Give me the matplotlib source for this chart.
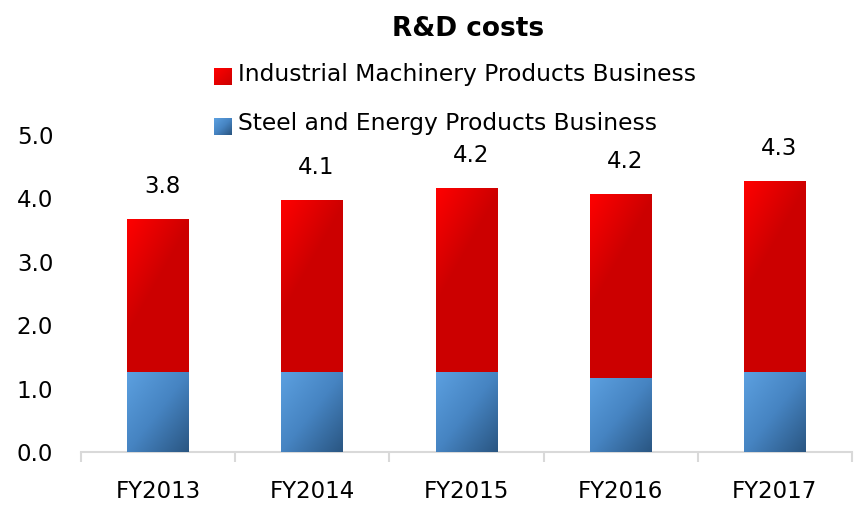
import numpy as np
import matplotlib
matplotlib.use('Agg')
import matplotlib.pyplot as plt
from matplotlib.patches import Rectangle
from matplotlib.legend_handler import HandlerBase
from matplotlib.image import BboxImage
from matplotlib.transforms import Bbox, TransformedBbox

# ---- data ----
categories = ['FY2013', 'FY2014', 'FY2015', 'FY2016', 'FY2017']
steel = [1.26, 1.26, 1.26, 1.17, 1.26]
industrial = [2.41, 2.71, 2.90, 2.90, 3.01]
total_labels = ['3.8', '4.1', '4.2', '4.2', '4.3']
series_names = ['Industrial Machinery Products Business',
                'Steel and Energy Products Business']
yticks = [0, 1, 2, 3, 4, 5]

plt.rcParams['font.family'] = ['DejaVu Sans']
FS = 16.5

RED_STOPS = [(0.0, (255, 0, 0)), (1.0, (204, 0, 0))]
BLUE_STOPS = [(0.0, (92, 160, 224)), (0.5, (70, 132, 194)), (1.0, (42, 86, 130))]


def ramp(t, stops):
    t = np.clip(t, 0, 1)
    pos = [s[0] for s in stops]
    out = np.zeros(t.shape + (3,))
    for c in range(3):
        out[..., c] = np.interp(t, pos, [s[1][c] for s in stops]) / 255.0
    return out


def grad_img(wpx, hpx, kind):
    wpx = max(int(round(wpx)), 2)
    hpx = max(int(round(hpx)), 2)
    yy, xx = np.mgrid[0:hpx, 0:wpx].astype(float)
    if kind == 'red':
        t = xx / 65.0 + yy / 115.0
        return ramp(t, RED_STOPS)
    if kind == 'redsmall':
        t = (xx + yy) / float(wpx + hpx - 2)
        return ramp(t, RED_STOPS)
    t = (xx / (wpx - 1) + yy / (hpx - 1)) / 2.0
    return ramp(t, BLUE_STOPS)


W, H = 856, 505
fig = plt.figure(figsize=(W / 100, H / 100), dpi=100)
ax = fig.add_axes([81 / W, 53 / H, 771 / W, 317 / H])
ax.set_xlim(-0.5, 4.5)
ax.set_ylim(0, 5)

x = np.arange(len(categories))
bw = 0.4
b1 = ax.bar(x, steel, width=bw, color=(0.3, 0.55, 0.8), zorder=2)
b2 = ax.bar(x, industrial, width=bw, bottom=steel, color=(0.8, 0, 0), zorder=2)

for bars, kind in ((b1, 'blue'), (b2, 'red')):
    for r in bars:
        x0, y0 = r.get_x(), r.get_y()
        x1, y1 = x0 + r.get_width(), y0 + r.get_height()
        p0 = ax.transData.transform((x0, y0))
        p1 = ax.transData.transform((x1, y1))
        img = grad_img(p1[0] - p0[0], p1[1] - p0[1], kind)
        im = ax.imshow(img, extent=(x0, x1, y0, y1), origin='upper',
                       aspect='auto', interpolation='bilinear', zorder=3)
        im.set_clip_path(r)

ax.set_xlim(-0.5, 4.5)
ax.set_ylim(0, 5)

for i in range(len(categories)):
    top = steel[i] + industrial[i]
    ax.annotate(total_labels[i], (x[i], top), xytext=(3, 23.5),
                textcoords='offset points', ha='center', va='center',
                fontsize=FS, color='black')

for s in ('left', 'right', 'top'):
    ax.spines[s].set_visible(False)
ax.spines['bottom'].set_color('#D9D9D9')
ax.spines['bottom'].set_linewidth(1.5)

ax.set_xticks(x)
ax.set_xticklabels(categories, fontsize=FS)
ax.set_xticks(np.arange(-0.5, len(categories), 1), minor=True)
ax.tick_params(axis='x', which='major', length=0, pad=20.5)
ax.tick_params(axis='x', which='minor', length=7, color='#D9D9D9', width=1.5)
ax.set_yticks(yticks)
ax.set_yticklabels([f'{v:.1f}' for v in yticks], fontsize=FS)
ax.tick_params(axis='y', length=0, pad=20)


class GradHandler(HandlerBase):
    def __init__(self, kind):
        super().__init__()
        self.kind = kind

    def create_artists(self, legend, orig_handle, xdescent, ydescent,
                       width, height, fontsize, trans):
        bb = Bbox.from_bounds(-xdescent, -ydescent - 3, width, height)
        im = BboxImage(TransformedBbox(bb, trans), interpolation='bilinear')
        im.set_data(grad_img(17, 17, self.kind))
        return [im]


h_red = Rectangle((0, 0), 1, 1, color=(0.8, 0, 0))
h_blue = Rectangle((0, 0), 1, 1, color=(0.3, 0.55, 0.8))
fig.legend([h_red, h_blue], series_names,
           handler_map={h_red: GradHandler('redsmall'), h_blue: GradHandler('blue')},
           loc='upper left', bbox_to_anchor=(214 / W, 1 - 63 / H),
           frameon=False, fontsize=16.8, borderpad=0, borderaxespad=0,
           handlelength=0.73, handleheight=0.73, handletextpad=0.3,
           labelspacing=1.12)

fig.text(468 / W, 1 - 29 / H, 'R&D costs', ha='center', va='center',
         fontsize=19, fontweight='bold')

fig.savefig('out.png', dpi=100)
